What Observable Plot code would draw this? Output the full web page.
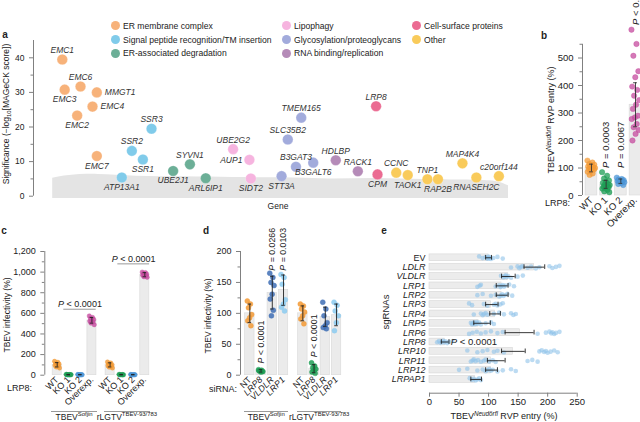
<!DOCTYPE html>
<html><head><meta charset="utf-8">
<script src="https://cdn.jsdelivr.net/npm/d3@7"></script>
<script src="https://cdn.jsdelivr.net/npm/@observablehq/plot@0.6"></script>
<style>
html,body{margin:0;padding:0;background:#fff;}
#fig{position:relative;width:640px;height:422px;overflow:hidden;background:#fff;font-family:"Liberation Sans",Arial,Helvetica,sans-serif;color:#222;}
.ov{position:absolute;white-space:nowrap;line-height:1;}
.ov sup{font-size:70%;position:relative;top:-0.55em;vertical-align:baseline;}
.ov sub{font-size:70%;position:relative;top:0.3em;vertical-align:baseline;}
.sw{position:absolute;width:9px;height:9px;border-radius:50%;}
.gl{position:absolute;height:0;border-top:1px solid #9a9a9a;}
</style></head><body><div id="fig"></div>
<script>
const FONT = '"Liberation Sans", Arial, Helvetica, sans-serif';

// ---------- Panel a data ----------
const groups = ["ER membrane complex","Signal peptide recognition/TM insertion","ER-associated degradation","Lipophagy","Glycosylation/proteoglycans","RNA binding/replication","Cell-surface proteins","Other"];
const groupColors = ["#f7b27a","#80cbea","#6caf97","#f6b4df","#a2abdc","#b58bb8","#eb6b92","#f9cb5b"];
const genes = ["EMC1","EMC3","EMC2","EMC6","EMC4","MMGT1","EMC7","ATP13A1","SSR2","SSR1","SSR3","UBE2J1","SYVN1","ARL6IP1","UBE2G2","AUP1","SIDT2","STT3A","SLC35B2","B3GAT3","TMEM165","B3GALT6","HDLBP","RACK1","LRP8","CPM","CCNC","TAOK1","TNP1","RAP2B","MAP4K4","RNASEH2C","c20orf144"];
const geneRank = [4.5,5,7.6,8.3,10.8,11.7,11.7,16.9,19,21.3,23.1,27.6,31.1,34.4,40.1,43.5,43.8,50.2,51.5,53.2,54.3,56.8,61.5,66.1,69.9,70.2,74.1,76.5,80.6,82.8,87.9,90.8,95.5];
const geneScore = [39.5,30.8,23.3,31.7,25.9,30.0,11.6,5.4,13.1,10.6,19.5,7.3,9.2,5.2,13.6,10.5,5.1,5.8,16.4,8.5,22.7,9.7,10.4,7.2,26.0,6.3,6.8,6.1,4.9,4.9,9.5,5.4,5.8];
const geneGroup = [0,0,0,0,0,0,0,1,1,1,1,2,2,2,3,3,3,4,4,4,4,4,5,5,6,6,7,7,7,7,7,7,7];
const noiseX = [2.5,6,12,20,30,40,50,60,70,80,90,95,97.5];
const noiseTop = [5.2,6.0,6.3,5.8,5.6,5.4,5.3,5.0,5.1,4.8,4.6,4.2,3.0];

// ---------- Panel b data ----------
const bCats = ["WT","KO 1","KO 2","Overexp."];
const bColors = ["#f39a35","#1f9e55","#4c96d7","#c64c9f"];
const bMean = [100,40,52,330];
const bLo = [86,26,44,250];
const bHi = [114,55,60,410];
const bPoints = [
  [127,120,115,112,110,106,104,102,100,97,96,94,90,86,80,75],
  [85,72,62,55,50,46,42,40,38,35,32,30,28,25,20,15,12],
  [65,60,58,56,55,53,52,50,48,45,42,38],
  [603,551,508,452,430,396,384,363,347,330,315,290,284,278,260,248,238,224,200]
];
const bPLabels = [null,"P = 0.0003","P = 0.0067","P < 0.0001"];
const bPAt = [0,100,100,620];

// ---------- Panel c data ----------
const cGroups = ["TBEV<sup>Sofjin</sup>","rLGTV<sup>TBEV-93/783</sup>"];
const cCats = ["WT","KO 1","KO 2","Overexp."];
const cColors = ["#f39a35","#1f9e55","#4c96d7","#c64c9f"];
const cMean = [[100,5,5,530],[100,5,5,975]];
const cLo = [[80,3,3,505],[80,3,3,955]];
const cHi = [[122,7,7,560],[120,7,7,995]];
const cPoints = [
  [[135,125,115,108,100,95,88,80,70],[8,6,5,4,3,7,5,4,6],[7,6,5,4,3,6,5,4],[575,560,550,540,530,525,515,505,490]],
  [[128,118,110,102,98,92,85,78,70],[8,6,5,4,3,6,5],[7,6,5,4,3,6,5],[1000,995,985,980,975,970,965,955,950]]
];
const cBrackets = [{g:0, from:0.57, to:3.37, y:640, text:"P < 0.0001"},{g:1, from:0.67, to:3.41, y:1080, text:"P < 0.0001"}];

// ---------- Panel d data ----------
const dGroups = ["TBEV<sup>Sofjin</sup>","rLGTV<sup>TBEV-93/783</sup>"];
const dCats = ["NT","LRP8","VLDLR","LRP1"];
const dColors = ["#f39a35","#1f9e55","#3f6fb5","#8ccbf0"];
const dMean = [[100,7,133,138],[100,10,94,97]];
const dLo = [[85,5,107,113],[88,4,79,80]];
const dHi = [[115,9,160,162],[112,17,110,115]];
const dPoints = [
  [[120,115,109,98,93,88,80],[9,8,7,6,5,7,6],[165,158,150,145,131,123,105,96],[163,158,147,122,115,110,104]],
  [[115,112,107,102,96,91,83],[20,15,12,10,8,5,3],[118,107,96,85,80,77,75],[118,113,104,96,85,72]]
];
const dPLabels = [[null,"P < 0.0001","P = 0.0266","P = 0.0103"],[null,"P < 0.0001",null,null]];
const dPAt = [[0,19,169,169],[0,29,0,0]];

// ---------- Panel e data ----------
const eRows = ["EV","LDLR","VLDLR","LRP1","LRP2","LRP3","LRP4","LRP5","LRP6","LRP8","LRP10","LRP11","LRP12","LRPAP1"];
const eMean = [100,177,133,122,122,104,111,83,153,26,141,104,104,77];
const eLo = [95,160,122,113,113,95,102,75,128,20,122,98,95,70];
const eHi = [105,195,145,133,133,116,120,103,177,33,162,128,115,88];
const ePoints = [
  [84,90,95,98,99,100,101,102,104,108,115,124],
  [138,149,152,155,157,166,172,180,186,203,208,214,220],
  [121,125,127,129,131,133,138,149,158],
  [81,85,87,112,118,120,122,124,126,129,135,143],
  [81,90,104,112,118,121,123,125,128,132,140],
  [67,72,92,98,109,112,115,120,124],
  [75,87,90,92,95,98,109,118,126,138,142,146],
  [70,72,73,75,77,78,80,81,84,87,95,104,109],
  [67,73,80,87,95,104,115,124,183,197,203,206,208,211,214,220],
  [13,16,19,21,23,25,27,30,33,39],
  [64,81,90,98,109,115,126,186,190,194,197,200,205,211,217],
  [70,73,75,78,82,87,92,95,101,107,112,166,174,183],
  [50,64,81,90,95,98,101,104,107,115,124,138,146],
  [68,72,75,78,81,84,87]
];
const eNote = {row:"LRP8", at:36, text:"P < 0.0001"};

// ---------- helpers ----------
const fig = document.getElementById("fig");
const jit = j => ((j * 0.618034) % 1) - 0.5;   // deterministic spread for display only
function italicP(svg){
  svg.querySelectorAll("text, tspan").forEach(el => {
    if (el.childElementCount === 0 && /^P [=<]/.test(el.textContent)) {
      const rest = el.textContent.slice(1).replace(/&/g,"&amp;").replace(/</g,"&lt;");
      el.innerHTML = '<tspan font-style="italic">P</tspan>' + rest;
    }
  });
}
function italicize(svg, names){
  svg.querySelectorAll("text").forEach(t => { if (names.includes(t.textContent)) t.setAttribute("font-style","italic"); });
}
function place(svg, left, top){
  svg.style.position = "absolute"; svg.style.left = left + "px"; svg.style.top = top + "px";
  fig.appendChild(svg); italicP(svg); return svg;
}
function ov(html, x, y, {size=9, anchor="middle", rotate=false, bold=false}={}){
  const d = document.createElement("div"); d.className = "ov"; d.innerHTML = html;
  d.style.left = x + "px"; d.style.top = y + "px"; d.style.fontSize = size + "px";
  if (bold) d.style.fontWeight = "bold";
  const tx = anchor === "start" ? "0" : anchor === "end" ? "-100%" : "-50%";
  d.style.transform = `translate(${tx},-50%)` + (rotate ? " rotate(-90deg)" : "");
  fig.appendChild(d); return d;
}
function gline(x1, x2, y){
  const d = document.createElement("div"); d.className = "gl";
  d.style.left = x1 + "px"; d.style.width = (x2 - x1) + "px"; d.style.top = y + "px";
  fig.appendChild(d);
}
const baseStyle = fs => ({fontFamily: FONT, fontSize: fs + "px", background: "transparent", color: "#222", overflow: "visible"});
const AX = "#808080";

// ---------- Panel a ----------
const aData = genes.map((g,i) => ({gene:g, rank:geneRank[i], score:geneScore[i], group:groups[geneGroup[i]]}));
const side = {EMC1:"n",EMC3:"s",EMC2:"s",EMC6:"n",EMC4:"e",MMGT1:"e",EMC7:"s",ATP13A1:"s",SSR2:"n",SSR1:"s",SSR3:"n",UBE2J1:"s",SYVN1:"n",ARL6IP1:"s",UBE2G2:"n",AUP1:"w",SIDT2:"s",STT3A:"s",SLC35B2:"n",B3GAT3:"n",TMEM165:"n",B3GALT6:"s",HDLBP:"n",RACK1:"n",LRP8:"n",CPM:"s",CCNC:"n",TAOK1:"s",TNP1:"n",RAP2B:"s",MAP4K4:"n",RNASEH2C:"s",c20orf144:"n"};
const lab = s => aData.filter(d => side[d.gene] === s);
const labOpt = {x:"rank", y:"score", text:"gene", fontStyle:"italic", fill:"#333"};
const aPlot = Plot.plot({
  width:530, height:215, marginLeft:33, marginRight:10, marginTop:40, marginBottom:19.3,
  style: baseStyle(8.5),
  x:{domain:[-1.5,100], axis:null},
  y:{domain:[0,45]},
  color:{domain:groups, range:groupColors},
  marks:[
    Plot.areaY(noiseX.map((x,i)=>({x, top:noiseTop[i]})), {x:"x", y1:-0.7, y2:"top", fill:"#e4e4e4", curve:"natural"}),
    Plot.ruleX([-1.5], {y1:0, y2:45, stroke:AX}),
    Plot.axisY({ticks:[0,10,20,30,40], tickSize:4, stroke:AX, label:null}),
    Plot.axisY({ticks:[5,15,25,35], tickSize:2.5, tickFormat:()=>"", stroke:AX, label:null}),
    Plot.dot(aData, {x:"rank", y:"score", r:5.3, fill:"group", stroke:"white", strokeOpacity:0.35, strokeWidth:0.8}),
    Plot.text(lab("n"), {...labOpt, dy:-6.5, lineAnchor:"bottom"}),
    Plot.text(lab("s"), {...labOpt, dy:6.5, lineAnchor:"top"}),
    Plot.text(lab("e"), {...labOpt, dx:8, textAnchor:"start"}),
    Plot.text(lab("w"), {...labOpt, dx:-7, textAnchor:"end"})
  ]
});
place(aPlot, 0, 0);

// legend
const legColX = [115, 286, 416], legRowY = [25.7, 39.5, 53];
groups.forEach((g,i) => {
  const c = Math.floor(i/3), r = i % 3;
  const s = document.createElement("div"); s.className = "sw";
  s.style.left = (legColX[c]-4.5) + "px"; s.style.top = (legRowY[r]-4.5) + "px"; s.style.background = groupColors[i];
  fig.appendChild(s);
  ov(g, legColX[c]+8, legRowY[r], {size:8.6, anchor:"start"});
});
ov("a", 5, 35, {size:10, bold:true});
ov("Significance (−log<sub>10</sub>[MAGeCK score])", 6, 114, {size:8.5, rotate:true});
ov("Gene", 278, 205.5, {size:8.5});

// ---------- Panel b ----------
const bTable = bCats.map((c,i)=>({pos:i, mean:bMean[i], lo:bLo[i], hi:bHi[i]}));
const bPts = bCats.flatMap((c,i)=>bPoints[i].map((v,j)=>({pos:i + jit(j)*0.55, v, col:bColors[i]})));
const bP = bPLabels.map((t,i)=>({pos:i, y:bPAt[i], t})).filter(d=>d.t);
const bPlot = Plot.plot({
  width:110, height:215, marginLeft:52, marginRight:0, marginTop:43.75, marginBottom:20,
  style: baseStyle(9.5),
  x:{domain:[-0.61,3.34]},
  y:{domain:[0,550]},
  color:{type:"identity"},
  marks:[
    Plot.rectY(bTable, {x1:d=>d.pos-0.4, x2:d=>d.pos+0.4, y1:0, y2:"mean", fill:"#ebebeb", stroke:"#d9d9d9", strokeWidth:0.6}),
    Plot.dot(bPts, {x:"pos", y:"v", r:2.7, fill:"col", fillOpacity:0.75, stroke:"col", strokeWidth:0.4}),
    Plot.ruleX(bTable, {x:"pos", y1:"lo", y2:"hi", stroke:"#333", strokeWidth:0.9}),
    Plot.ruleY(bTable, {y:"lo", x1:d=>d.pos-0.13, x2:d=>d.pos+0.13, stroke:"#333", strokeWidth:0.9}),
    Plot.ruleY(bTable, {y:"hi", x1:d=>d.pos-0.13, x2:d=>d.pos+0.13, stroke:"#333", strokeWidth:0.9}),
    Plot.ruleX([-0.61], {y1:0, y2:550, stroke:AX}),
    Plot.axisY({ticks:[0,100,200,300,400,500], tickSize:4, stroke:AX, label:null}),
    Plot.axisY({ticks:[50,150,250,350,450,550], tickSize:2.5, tickFormat:()=>"", stroke:AX, label:null}),
    Plot.axisX({ticks:[0,1,2,3], tickFormat:i=>bCats[i], tickRotate:-45, tickSize:0, tickPadding:3, label:null}),
    Plot.text(bP, {x:"pos", y:"y", text:"t", rotate:-90, textAnchor:"start", fontSize:9.5})
  ]
});
place(bPlot, 530, 0);
ov("b", 544, 36, {size:10, bold:true});
ov("LRP8:", 570, 203, {size:9, anchor:"end"});
ov("TBEV<sup><i>Neudörfl</i></sup> RVP entry (%)", 551, 120, {size:9, rotate:true});

// ---------- Panel c ----------
const cGap = 4.57;
const cTable = [], cPts = [], cTicks = [], cTickLab = new Map();
cMean.forEach((row,g)=>row.forEach((m,i)=>{
  const pos = g*cGap + i;
  cTable.push({pos, mean:m, lo:cLo[g][i], hi:cHi[g][i]});
  cTicks.push(pos); cTickLab.set(pos, cCats[i]);
  cPoints[g][i].forEach((v,j)=>cPts.push({pos:pos + jit(j)*0.45, v, col:cColors[i]}));
}));
const cBr = cBrackets.map(b=>({x1:b.g*cGap+b.from, x2:b.g*cGap+b.to, y:b.y, text:b.text, xm:b.g*cGap+(b.from+b.to)/2}));
const cPlot = Plot.plot({
  width:200, height:207, marginLeft:44.3, marginRight:44.9, marginTop:36, marginBottom:47.3,
  style: baseStyle(9),
  x:{domain:[-1.07,8.5]},
  y:{domain:[0,1200]},
  color:{type:"identity"},
  marks:[
    Plot.rectY(cTable, {x1:d=>d.pos-0.39, x2:d=>d.pos+0.39, y1:0, y2:"mean", fill:"#ebebeb", stroke:"#d9d9d9", strokeWidth:0.6}),
    Plot.dot(cPts, {x:"pos", y:"v", r:2.2, fill:"col", fillOpacity:0.8, stroke:"col", strokeWidth:0.4}),
    Plot.ruleX(cTable, {x:"pos", y1:"lo", y2:"hi", stroke:"#222", strokeWidth:0.9}),
    Plot.ruleY(cTable, {y:"lo", x1:d=>d.pos-0.15, x2:d=>d.pos+0.15, stroke:"#222", strokeWidth:0.9}),
    Plot.ruleY(cTable, {y:"hi", x1:d=>d.pos-0.15, x2:d=>d.pos+0.15, stroke:"#222", strokeWidth:0.9}),
    Plot.ruleY(cBr, {y:"y", x1:"x1", x2:"x2", stroke:"#999"}),
    Plot.text(cBr, {x:"xm", y:"y", text:"text", dy:-2, lineAnchor:"bottom", fontSize:9}),
    Plot.ruleX([-1.07], {y1:0, y2:1200, stroke:AX}),
    Plot.axisY({ticks:[0,200,400,600,800,1000,1200], tickFormat:d3.format(","), tickSize:4, stroke:AX, label:null}),
    Plot.axisY({ticks:[100,300,500,700,900,1100], tickSize:2.5, tickFormat:()=>"", stroke:AX, label:null}),
    Plot.axisX({ticks:cTicks, tickFormat:p=>cTickLab.get(p), tickRotate:-45, tickSize:0, tickPadding:3, label:null})
  ]
});
place(cPlot, 0, 215);
ov("c", 4, 231, {size:10, bold:true});
ov("LRP8:", 32, 388, {size:9, anchor:"end"});
ov("TBEV infectivity (%)", 7, 315, {size:8.5, rotate:true});
{
  const sx = cPlot.scale("x");
  cGroups.forEach((g,k)=>{
    const a = sx.apply(k*cGap - 0.45), b = sx.apply(k*cGap + 3.45);
    gline(a, b, 410.5);
    ov(g, (a+b)/2, 416.5, {size:8.5});
  });
}

// ---------- Panel d ----------
const dGap = 4.72;
const dTable = [], dPts = [], dTicks = [], dTickLab = new Map(), dP = [];
dMean.forEach((row,g)=>row.forEach((m,i)=>{
  const pos = g*dGap + i;
  dTable.push({pos, mean:m, lo:dLo[g][i], hi:dHi[g][i]});
  dTicks.push(pos); dTickLab.set(pos, dCats[i]);
  dPoints[g][i].forEach((v,j)=>dPts.push({pos:pos + jit(j)*0.45, v, col:dColors[i]}));
  if (dPLabels[g][i]) dP.push({pos, y:dPAt[g][i], t:dPLabels[g][i]});
}));
const dPlot = Plot.plot({
  width:170, height:207, marginLeft:40, marginRight:25.2, marginTop:36, marginBottom:47.3,
  style: baseStyle(9),
  x:{domain:[-0.83,8.5]},
  y:{domain:[0,200]},
  color:{type:"identity"},
  marks:[
    Plot.rectY(dTable, {x1:d=>d.pos-0.42, x2:d=>d.pos+0.42, y1:0, y2:"mean", fill:"#ebebeb", stroke:"#d9d9d9", strokeWidth:0.6}),
    Plot.dot(dPts, {x:"pos", y:"v", r:2.5, fill:"col", fillOpacity:0.85, stroke:"col", strokeWidth:0.4}),
    Plot.ruleX(dTable, {x:"pos", y1:"lo", y2:"hi", stroke:"#222", strokeWidth:0.9}),
    Plot.ruleY(dTable, {y:"lo", x1:d=>d.pos-0.16, x2:d=>d.pos+0.16, stroke:"#222", strokeWidth:0.9}),
    Plot.ruleY(dTable, {y:"hi", x1:d=>d.pos-0.16, x2:d=>d.pos+0.16, stroke:"#222", strokeWidth:0.9}),
    Plot.ruleX([-0.83], {y1:0, y2:200, stroke:AX}),
    Plot.axisY({ticks:[0,50,100,150,200], tickSize:4, stroke:AX, label:null}),
    Plot.axisY({ticks:[25,75,125,175], tickSize:2.5, tickFormat:()=>"", stroke:AX, label:null}),
    Plot.axisX({ticks:dTicks, tickFormat:p=>dTickLab.get(p), tickRotate:-45, tickSize:0, tickPadding:3, label:null}),
    Plot.text(dP, {x:"pos", y:"y", text:"t", rotate:-90, textAnchor:"start", fontSize:8.8})
  ]
});
place(dPlot, 200, 215);
italicize(dPlot, ["LRP8","VLDLR","LRP1"]);
ov("d", 206, 231, {size:10, bold:true});
ov("siRNA:", 237, 389, {size:9, anchor:"end"});
ov("TBEV infectivity (%)", 208, 316, {size:8.5, rotate:true});
{
  const sx = dPlot.scale("x");
  dGroups.forEach((g,k)=>{
    const a = 200 + sx.apply(k*dGap - 0.45), b = 200 + sx.apply(k*dGap + 3.45);
    gline(a, b, 410.5);
    ov(g, (a+b)/2, 416.5, {size:8.5});
  });
}

// ---------- Panel e ----------
const eTable = eRows.map((r,i)=>({i, mean:eMean[i], lo:eLo[i], hi:eHi[i]}));
const ePts = eRows.flatMap((r,i)=>ePoints[i].map((v,j)=>({i:i + jit(j+i)*0.3, v})));
const eYmax = 14.47;
const ePlot = Plot.plot({
  width:270, height:207, marginLeft:59, marginRight:63.3, marginTop:37.6, marginBottom:29.3,
  style: baseStyle(9),
  x:{domain:[0,250]},
  y:{domain:[-0.5,eYmax], reverse:true},
  marks:[
    Plot.rectX(eTable, {y1:d=>d.i-0.36, y2:d=>d.i+0.36, x1:0, x2:"mean", fill:"#ececec", stroke:"#d6d6d6", strokeWidth:0.6}),
    Plot.dot(ePts, {x:"v", y:"i", r:2.3, fill:"#8fc3ea", fillOpacity:0.6}),
    Plot.ruleY(eTable, {y:"i", x1:"lo", x2:"hi", stroke:"#222", strokeWidth:0.9}),
    Plot.ruleX(eTable, {x:"lo", y1:d=>d.i-0.25, y2:d=>d.i+0.25, stroke:"#222", strokeWidth:0.9}),
    Plot.ruleX(eTable, {x:"hi", y1:d=>d.i-0.25, y2:d=>d.i+0.25, stroke:"#222", strokeWidth:0.9}),
    Plot.text([eNote], {x:"at", y:()=>eRows.indexOf(eNote.row), text:"text", textAnchor:"start", fontSize:9.5}),
    Plot.ruleY([eYmax], {x1:0, x2:250, stroke:AX}),
    Plot.axisX({ticks:[0,50,100,150,200,250], tickSize:4, tickPadding:1, stroke:AX, label:null, fontSize:9.5}),
    Plot.axisY({ticks:eRows.map((_,i)=>i), tickFormat:i=>eRows[i], tickSize:0, tickPadding:4, label:null})
  ]
});
place(ePlot, 370, 215);
italicize(ePlot, eRows.filter(r=>r!=="EV"));
ov("e", 384, 231, {size:10, bold:true});
ov("sgRNAs", 386, 312, {size:9.5, rotate:true});
ov("TBEV<sup><i>Neudörfl</i></sup> RVP entry (%)", 504, 416, {size:9});
</script></body></html>
